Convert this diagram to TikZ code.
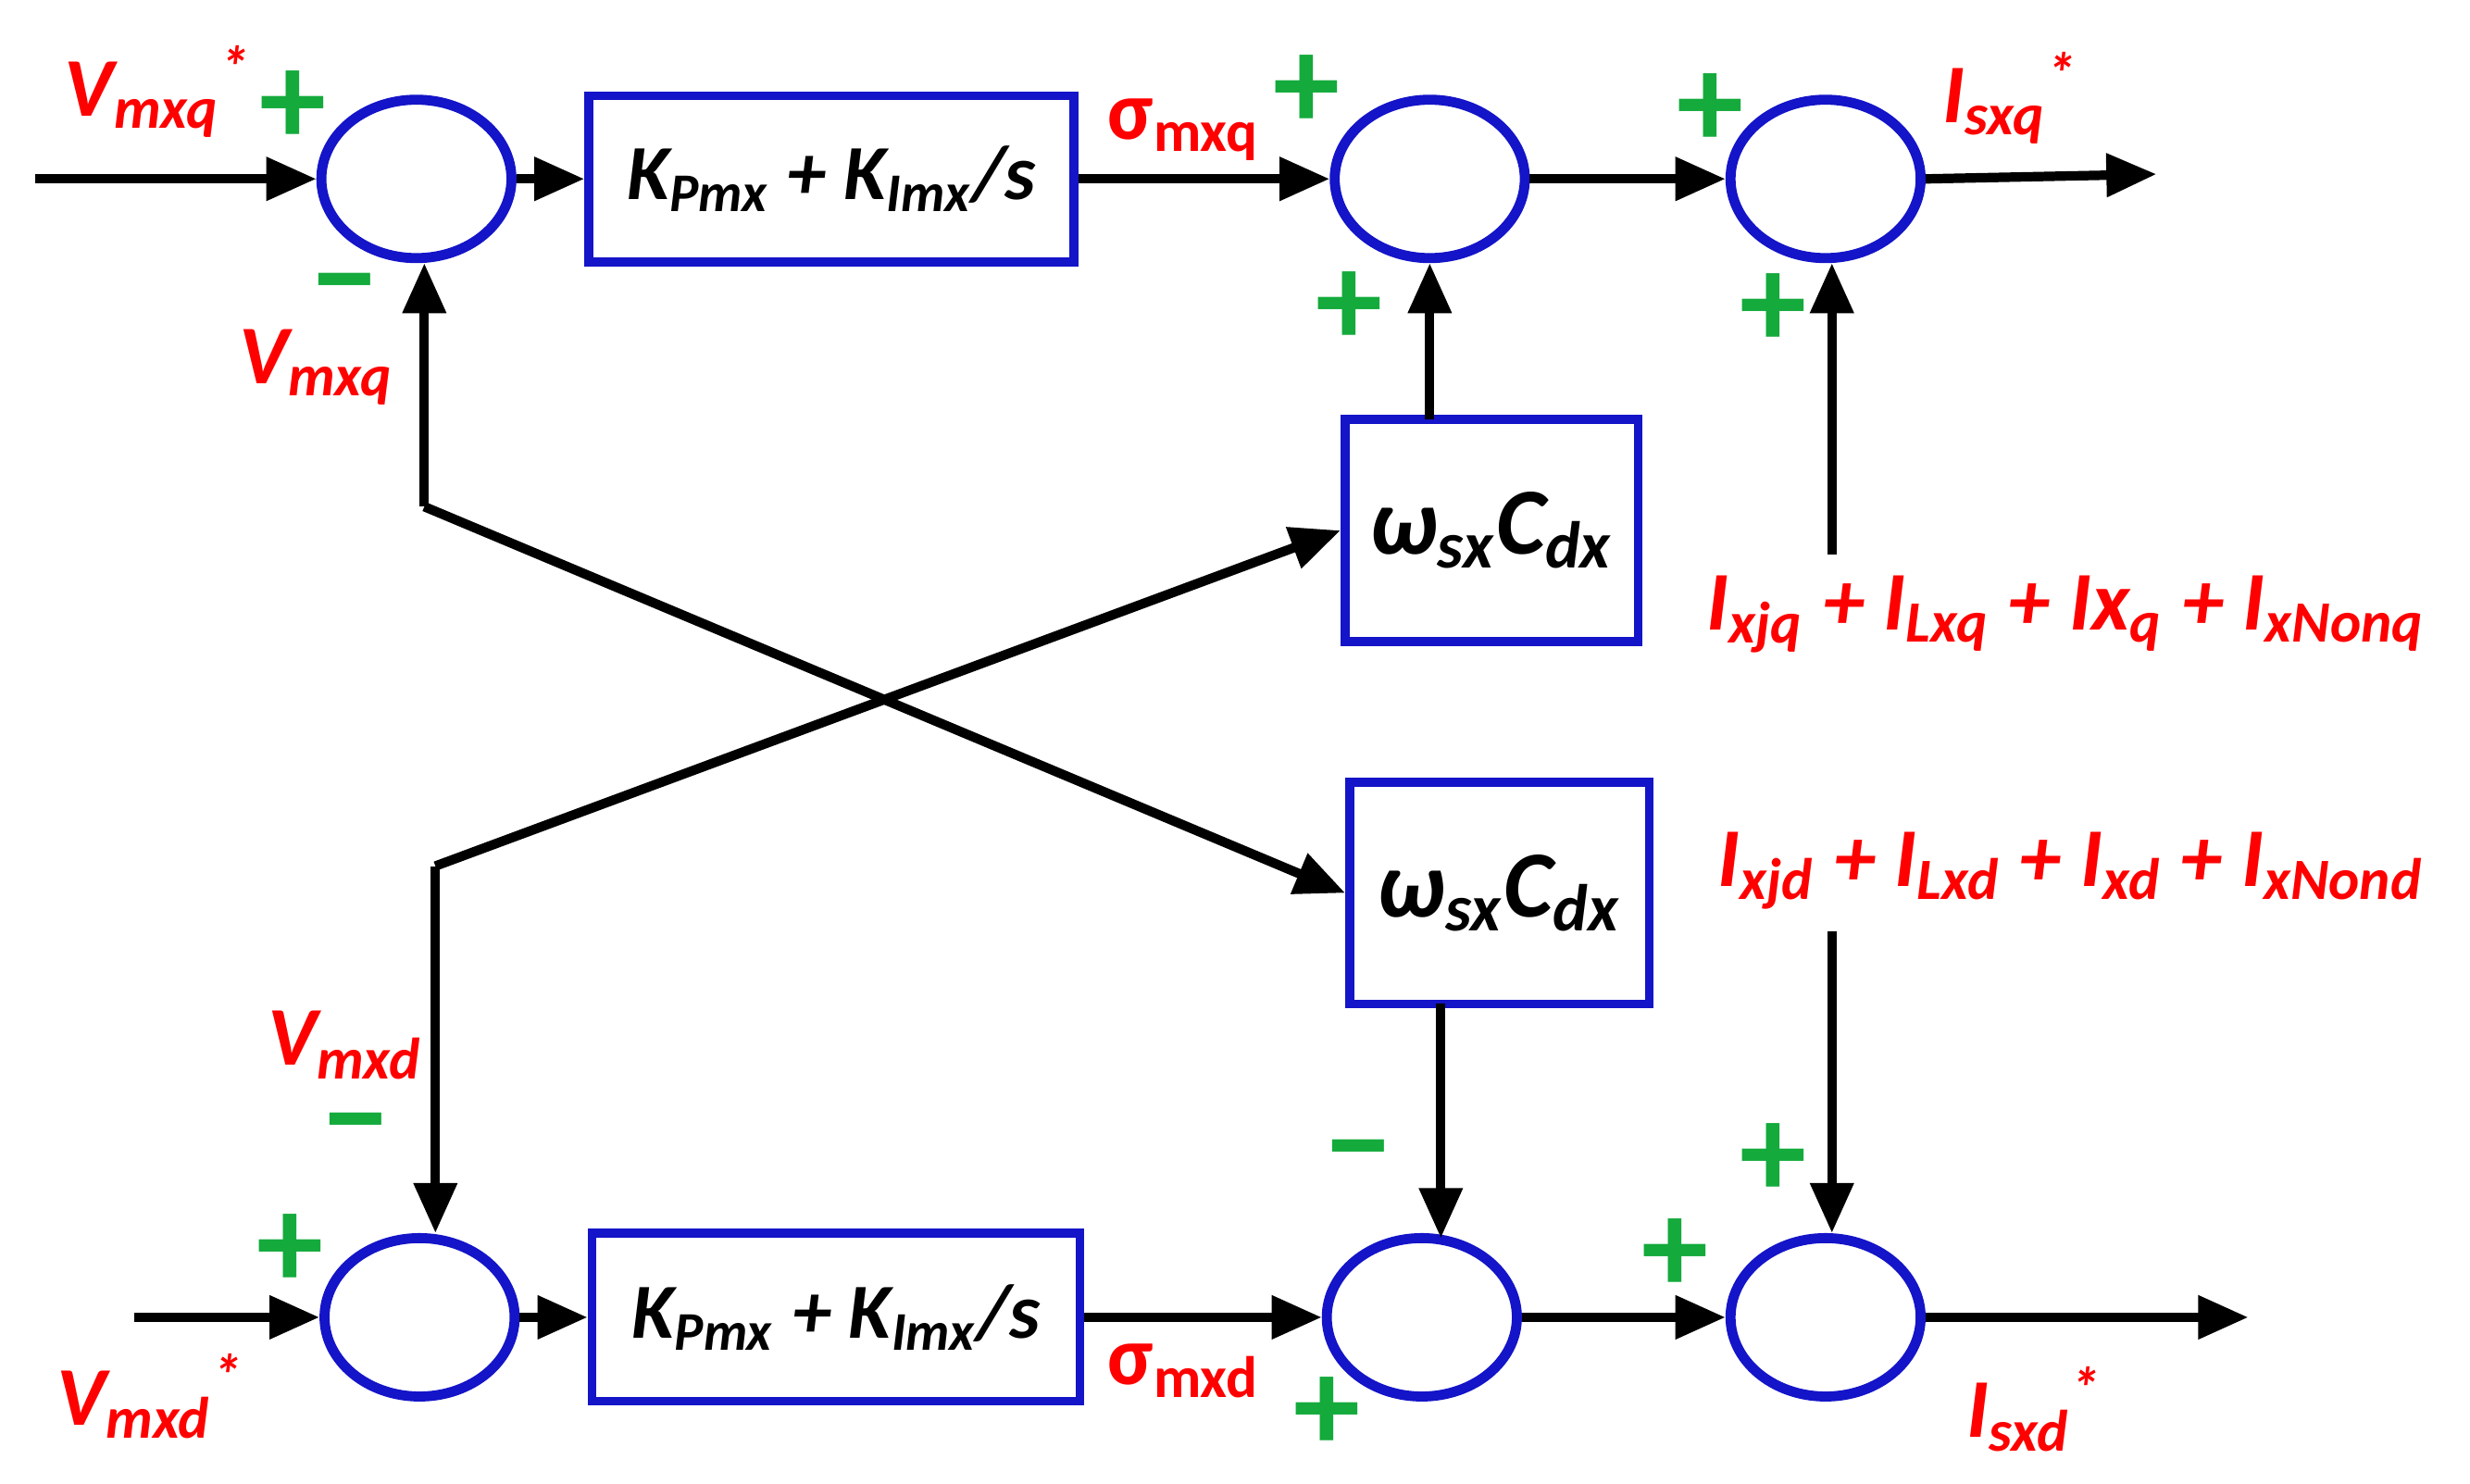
\documentclass[tikz,border=0pt]{standalone}
\usepackage{fontspec}
\setmainfont{Carlito}
\usetikzlibrary{arrows.meta,shapes.geometric}
\definecolor{bl}{RGB}{20,20,200}
\definecolor{rd}{RGB}{255,0,0}
\definecolor{gr}{RGB}{20,170,60}
\begin{document}
\begin{tikzpicture}[x=0.01cm,y=-0.01cm,
 blk/.style={draw=bl,line width=1.6pt,inner sep=0pt,font=\bfseries\itshape\fontsize{14}{16}\selectfont},
 ar/.style={line width=1.7pt,-{Triangle[length=9pt,width=7.5pt]}},
 lb/.style={text=rd,font=\bfseries\itshape\fontsize{15}{17}\selectfont,inner sep=0pt},
 sg/.style={text=gr,font=\bfseries\fontsize{24}{24}\selectfont,inner sep=0pt},
 S/.style={draw=bl,line width=1.8pt,ellipse,minimum width=1.2cm,minimum height=1.0cm,inner sep=0pt}]
\useasboundingbox (0,0) rectangle (1560,937);
\node[S] (q1) at (263,113) {};
\node[S] (q2) at (903,113) {};
\node[S] (q3) at (1153,113) {};
\node[S] (d1) at (265,832) {};
\node[S] (d2) at (898,832) {};
\node[S] (d3) at (1153,832) {};
\node[blk,minimum width=3.06cm,minimum height=1.05cm] (piq) at (525,113) {K\textsubscript{Pmx} + K\textsubscript{Imx}/s};
\node[blk,minimum width=3.08cm,minimum height=1.06cm] (pid) at (528,832) {K\textsubscript{Pmx} + K\textsubscript{Imx}/s};
\node[blk,minimum width=1.85cm,minimum height=1.4cm,font=\bfseries\itshape\fontsize{17}{19}\selectfont] (wq) at (942,335) {ω\textsubscript{sx}C\textsubscript{dx}};
\node[blk,minimum width=1.89cm,minimum height=1.4cm,font=\bfseries\itshape\fontsize{17}{19}\selectfont] (wd) at (947,564) {ω\textsubscript{sx}C\textsubscript{dx}};
\coordinate (inq) at (22,113);
\coordinate (ind) at (85,832);
\coordinate (outq) at (1362,110);
\coordinate (outd) at (1420,832);
\coordinate (cq) at (268,320);
\coordinate (cd) at (275,547);
\coordinate (iq) at (1157,350);
\coordinate (id) at (1157,588);
\coordinate (wqn) at (903,265);
\coordinate (wds) at (910,634);
\coordinate (d2n) at (910,782);
\draw[ar] (inq) -- (q1);
\draw[ar] (q1) -- (piq);
\draw[ar] (piq) -- (q2);
\draw[ar] (q2) -- (q3);
\draw[ar] (q3.east) -- (outq);
\draw[ar] (wqn) -- (wqn|-q2.south);
\draw[ar] (iq) -- (iq|-q3.south);
\draw[ar] (cq) -- (cq|-q1.south);
\draw[ar] (cq) -- (wd.west);
\draw[ar] (cd) -- (cd|-d1.north);
\draw[ar] (cd) -- (wq.west);
\draw[ar] (wds) -- (d2n);
\draw[ar] (id) -- (id|-d3.north);
\draw[ar] (ind) -- (d1);
\draw[ar] (d1) -- (pid);
\draw[ar] (pid) -- (d2);
\draw[ar] (d2) -- (d3);
\draw[ar] (d3) -- (outd);
\node[lb] at (100,58) {V\textsubscript{mxq}\textsuperscript{*}};
\node[sg] at (185,68) {+};
\node[lb] at (200,232) {V\textsubscript{mxq}};
\node[sg] at (218,188) {−};
\node[lb,font=\bfseries\fontsize{15}{17}\selectfont] at (748,82) {σ\textsubscript{mxq}};
\node[sg] at (825,58) {+};
\node[sg] at (852,195) {+};
\node[sg] at (1080,70) {+};
\node[sg] at (1120,196) {+};
\node[lb] at (1270,62) {I\textsubscript{sxq}\textsuperscript{*}};
\node[lb] at (1305,388) {I\textsubscript{xjq} + I\textsubscript{Lxq} + Ix\textsubscript{q} + I\textsubscript{xNonq}};
\node[lb] at (1308,550) {I\textsubscript{xjd} + I\textsubscript{Lxd} + I\textsubscript{xd} + I\textsubscript{xNond}};
\node[lb] at (218,660) {V\textsubscript{mxd}};
\node[sg] at (225,718) {−};
\node[sg] at (183,790) {+};
\node[lb] at (95,882) {V\textsubscript{mxd}\textsuperscript{*}};
\node[lb,font=\bfseries\fontsize{15}{17}\selectfont] at (748,866) {σ\textsubscript{mxd}};
\node[sg] at (858,735) {−};
\node[sg] at (838,893) {+};
\node[sg] at (1058,793) {+};
\node[sg] at (1120,733) {+};
\node[lb] at (1285,890) {I\textsubscript{sxd}\textsuperscript{*}};
\end{tikzpicture}
\end{document}
